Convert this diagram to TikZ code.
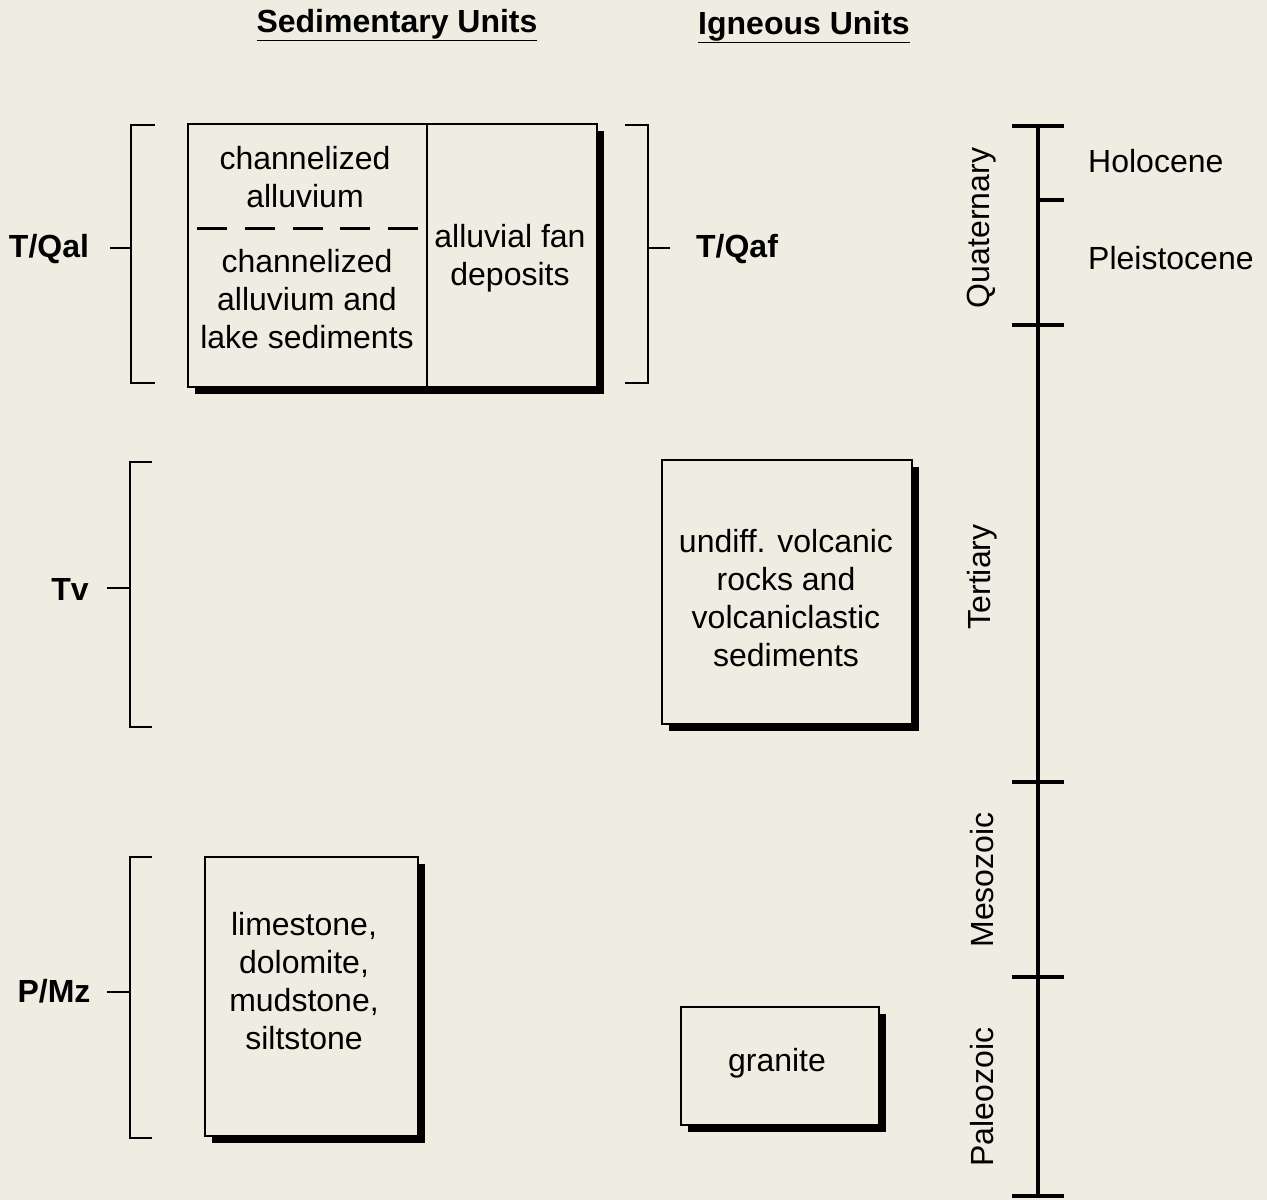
\documentclass[tikz,border=0pt]{standalone}
\usepackage{fontspec}
\setmainfont{Liberation Sans}
\usetikzlibrary{shadows}
\definecolor{paper}{RGB}{239,237,225}
\begin{document}
\begin{tikzpicture}[x=1pt,y=-1pt,
  txt/.style={font=\fontsize{32}{38}\selectfont, align=center, inner sep=0pt},
  lbl/.style={font=\bfseries\fontsize{32}{38}\selectfont, inner sep=0pt},
  unitbox/.style={draw=black, line width=2.8pt, fill=paper, inner sep=0pt,
    drop shadow={shadow xshift=6.5pt, shadow yshift=-7pt, fill=black, opacity=1}},
  brk/.style={line width=2.6pt},
  axis/.style={line width=4.8pt}]
\fill[paper] (0,0) rectangle (1267,1200);
\useasboundingbox (0,0) rectangle (1267,1200);

% headers
\node[lbl] (hsed) at (397,25) {\underline{Sedimentary Units}};
\node[lbl] (hign) at (804,27) {\underline{Igneous Units}};

% top box
\node[unitbox, minimum width=409pt, minimum height=263pt] (tq) at (392.5,255.5) {};
\coordinate (dvt) at (427,124);
\coordinate (dvb) at (427,387);
\draw[line width=2.6pt] (dvt) -- (dvb);
\coordinate (dsl) at (197,228);
\coordinate (dsr) at (418,228);
\draw[line width=3pt, dash pattern=on 30pt off 17.75pt] (dsl) -- (dsr);
\node[txt] (t1) at (305,177) {channelized\\alluvium};
\node[txt] (t2) at (307,299) {channelized\\alluvium and\\lake sediments};
\node[txt] (t3) at (510,258) {alluvial fan\\deposits};

% volcanic box
\node[unitbox, minimum width=250pt, minimum height=264pt] (tvb) at (787,592) {};
\node[txt] (t4) at (786,598) {undiff. volcanic\\rocks and\\volcaniclastic\\sediments};

% limestone box
\node[unitbox, minimum width=213pt, minimum height=279pt] (pmb) at (311.5,996.5) {};
\node[txt] (t5) at (304,981) {limestone,\\dolomite,\\mudstone,\\siltstone};

% granite box
\node[unitbox, minimum width=198pt, minimum height=118pt] (grb) at (780,1066) {};
\node[txt] (t6) at (777,1063) {granite};

% left labels and brackets
\node[lbl] (lq) at (49,249) {T/Qal};
\draw[brk] (155,125) -- (131,125) -- (131,383) -- (155,383);
\draw[brk] (110,248) -- (131,248);

\node[lbl] (ltv) at (70,589) {Tv};
\draw[brk] (152,462) -- (130,462) -- (130,727) -- (152,727);
\draw[brk] (107,588) -- (130,588);

\node[lbl] (lpm) at (54,991) {P/Mz};
\draw[brk] (152,857) -- (130,857) -- (130,1138) -- (152,1138);
\draw[brk] (107,992) -- (130,992);

% right bracket
\draw[brk] (625,125) -- (648,125) -- (648,383) -- (625,383);
\draw[brk] (648,248) -- (670,248);
\node[lbl] (lqf) at (737,249) {T/Qaf};

% time axis
\coordinate (atop) at (1038,126);
\coordinate (abot) at (1038,1196);
\draw[axis] (atop) -- (abot);
\foreach \yy in {126,325,782,977,1196}
  \draw[axis] (1012,\yy) -- (1064,\yy);
\draw[axis] (1038,200) -- (1064,200);

\node[txt, rotate=90] (q) at (982,228) {Quaternary};
\node[txt, rotate=90] (te) at (982,577) {Tertiary};
\node[txt, rotate=90] (me) at (982,880) {Mesozoic};
\node[txt, rotate=90] (pa) at (982,1097) {Paleozoic};
\node[txt, anchor=west] (ho) at (1088,161) {Holocene};
\node[txt, anchor=west] (pl) at (1088,258) {Pleistocene};
\end{tikzpicture}
\end{document}
